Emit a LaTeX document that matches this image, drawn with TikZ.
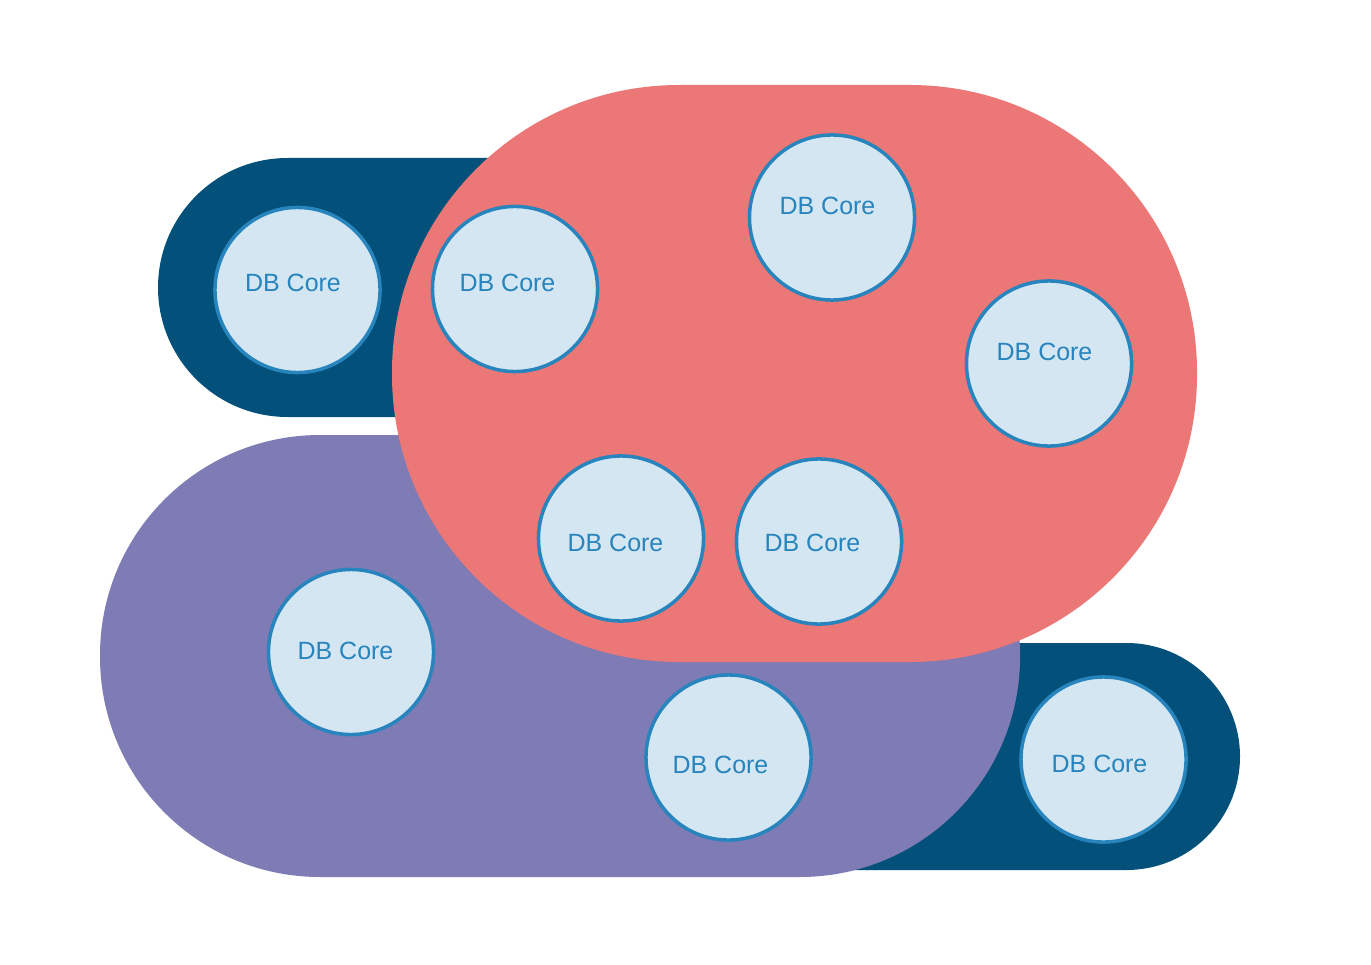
\documentclass[tikz,border=0pt]{standalone}
\usepackage{fontspec}
\setmainfont{Liberation Sans}
\usepackage{tikz}
\definecolor{nodeblue}{RGB}{3,81,122}
\definecolor{zonered}{RGB}{236,119,119}
\definecolor{zonepurple}{RGB}{126,123,181}
\definecolor{corefill}{RGB}{211,230,242}
\definecolor{coreline}{RGB}{40,132,188}

\begin{document}
\begin{tikzpicture}[x=0.01cm, y=-0.01cm,
  coretext/.style={text=coreline, font=\fontsize{7.1}{8}\selectfont, inner sep=0pt},
  core/.style={circle, draw=coreline, fill=corefill, line width=1pt, minimum size=1.65cm, inner sep=0pt,
    label={[coretext, shift={(#1)}]center:DB Core}}]
\useasboundingbox (0,0) rectangle (1371,964);
% zones
\fill[nodeblue, rounded corners=1.295cm] (158,158) rectangle (700,417);
\fill[nodeblue, rounded corners=1.135cm] (500,643) rectangle (1240,870);
\fill[zonepurple, rounded corners=2.2cm] (100,435) rectangle (1020,877);
\fill[zonered, rounded corners=2.87cm] (392,85) rectangle (1197,662);
% cores
\node[core={-4.5,-7.5}] (bl1) at (297.5,290) {};
\node[core={-7.5,-6.5}] (rd1) at (515,289) {};
\node[core={-4.5,-11.5}] (rd2) at (832,217.5) {};
\node[core={-4.5,-12}] (rd3) at (1049,363.5) {};
\node[core={-5.5,4}] (rd4) at (621,538.5) {};
\node[core={-6.5,1}] (rd5) at (819,541.5) {};
\node[core={-5.5,-1}] (pu1) at (351,652) {};
\node[core={-8,7.5}] (pu2) at (728.5,757.5) {};
\node[core={-4,4.5}] (br1) at (1103.5,759.5) {};
\end{tikzpicture}
\end{document}
